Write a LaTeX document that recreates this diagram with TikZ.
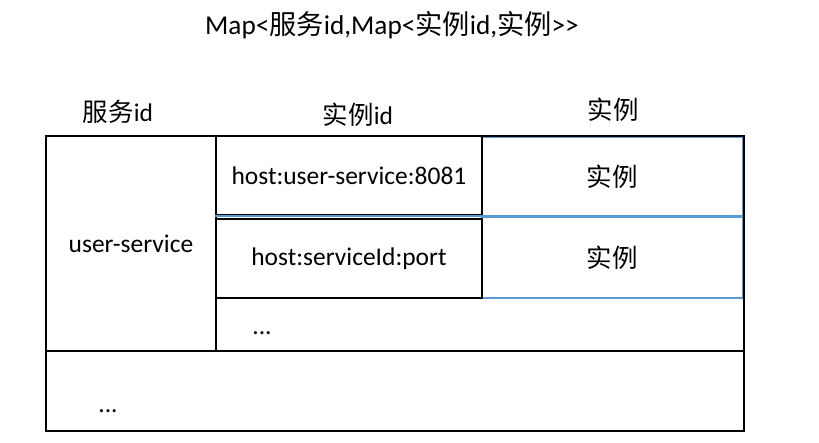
\documentclass[tikz,border=0pt]{standalone}
\usepackage{fontspec}
\setmainfont{Carlito}
\newfontfamily\cjk{Noto Sans CJK SC}
\usetikzlibrary{positioning}
\definecolor{cellblue}{RGB}{91, 155, 213}

\begin{document}
\begin{tikzpicture}[
    x = 0.02cm, y = -0.02cm,
    every node/.style = {font=\fontsize{14.5}{17}\selectfont, inner sep=0pt},
    cell/.style = {draw=black, line width=1.1pt, anchor=north west},
    bluecell/.style = {draw=cellblue, line width=0.9pt, anchor=north west},
    headtext/.style = {anchor=center}
]
  \useasboundingbox (0,0) rectangle (819,443);

  % title
  \node[headtext, font=\fontsize{15.5}{18}\selectfont] (title) at (392,25)
    {Map<{\cjk 服务}id,Map<{\cjk 实例}id,{\cjk 实例}{>}{>}};

  % column heads
  \node[headtext] (headsvc)  at (118,112) {{\cjk 服务}id};
  \node[headtext] (headid)   at (358,115) {{\cjk 实例}id};
  \node[headtext] (headinst) at (613,110) {\cjk 实例};

  % blue instance cells
  \node[bluecell, minimum width=5.22cm, minimum height=1.58cm] (inst1) at (481,136) {\cjk 实例};
  \node[bluecell, minimum width=5.22cm, minimum height=1.62cm] (inst2) at (481,216) {\cjk 实例};

  % black frame
  \node[cell, minimum width=3.4cm, minimum height=4.3cm] (svc) at (45,135) {user-service};
  \node[cell, minimum width=10.56cm, minimum height=4.3cm] (rest) at (215,135) {};
  \node[cell, minimum width=13.96cm, minimum height=1.6cm] (more) at (45,350) {};
  \node[cell, minimum width=5.32cm, minimum height=1.58cm] (host1) at (215,135) {host:user-service:8081};
  \node[cell, minimum width=5.32cm, minimum height=1.58cm] (host2) at (215,218) {host:serviceId:port};
  \draw[draw=cellblue, line width=0.9pt] ([yshift=1pt]host2.north west) -- ([yshift=1pt]host2.north east);

  % ellipses
  \node (dotsinst) at (262,333) {...};
  \node (dotssvc)  at (108,411) {...};
\end{tikzpicture}
\end{document}
